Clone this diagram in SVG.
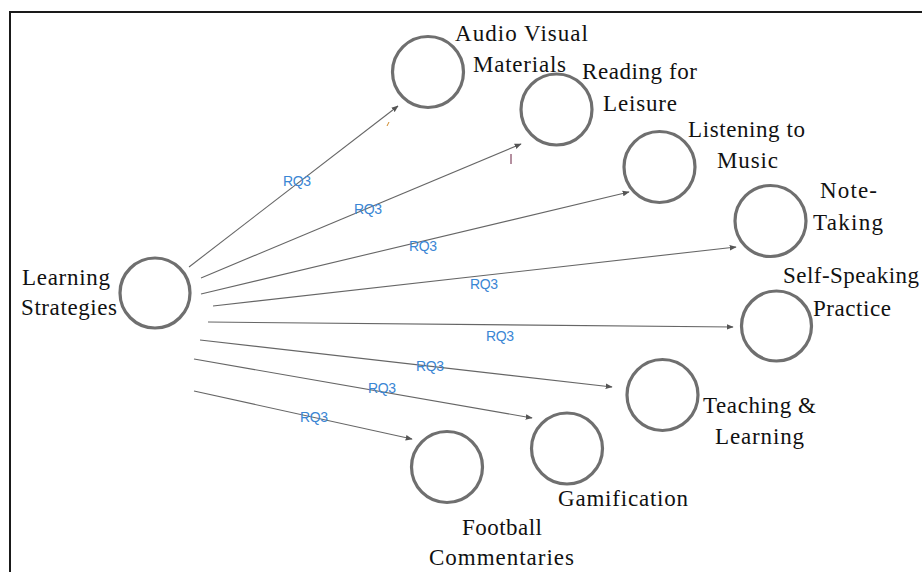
<svg xmlns="http://www.w3.org/2000/svg" width="922" height="572" viewBox="0 0 922 572">
<style>
.node{fill:none;stroke:#6f6f6f;stroke-width:3.2}
.lbl{font-family:"Liberation Serif","Times New Roman",serif;font-size:23px;fill:#111}
.edge{stroke:#666;stroke-width:1.1;fill:none;marker-end:url(#arr)}
.rq{font-family:"Liberation Sans",Arial,sans-serif;font-size:14px;fill:#3a86d4}
</style>
<defs>
<marker id="arr" viewBox="0 0 10 10" refX="9" refY="5" markerWidth="7" markerHeight="7" markerUnits="userSpaceOnUse" orient="auto">
<path d="M0,1 L10,5 L0,9 z" fill="#555"/>
</marker>
</defs>
<rect width="922" height="572" fill="#fff"/>
<path d="M10,572 V12 H922" fill="none" stroke="#1a1a1a" stroke-width="2"/>

<g id="connectors">
<line class="edge" x1="189" y1="267" x2="398" y2="106"/>
<line class="edge" x1="201" y1="278" x2="521" y2="144"/>
<line class="edge" x1="201" y1="294" x2="629" y2="192"/>
<line class="edge" x1="213" y1="306" x2="736" y2="247"/>
<line class="edge" x1="208" y1="322" x2="733" y2="327"/>
<line class="edge" x1="200" y1="340" x2="612" y2="387"/>
<line class="edge" x1="194" y1="359" x2="532" y2="418"/>
<line class="edge" x1="194" y1="391" x2="412" y2="439"/>
<text class="rq" x="283" y="186" textLength="28">RQ3</text>
<text class="rq" x="354" y="214" textLength="28">RQ3</text>
<text class="rq" x="409" y="251" textLength="28">RQ3</text>
<text class="rq" x="470" y="289" textLength="28">RQ3</text>
<text class="rq" x="486" y="341" textLength="28">RQ3</text>
<text class="rq" x="416" y="371" textLength="28">RQ3</text>
<text class="rq" x="368" y="393" textLength="28">RQ3</text>
<text class="rq" x="300" y="422" textLength="28">RQ3</text>
<line x1="387" y1="126" x2="389" y2="122" stroke="#d08a2a" stroke-width="1"/>
<line x1="511" y1="154" x2="511" y2="164" stroke="#6a2040" stroke-width="1"/>
</g>

<g id="learning-strategies">
<circle class="node" cx="155" cy="293" r="35"/>
<text class="lbl" x="22" y="285" textLength="88">Learning</text>
<text class="lbl" x="21" y="315" textLength="96">Strategies</text>
</g>
<g id="audio-visual">
<circle class="node" cx="428" cy="72" r="35.5"/>
<text class="lbl" x="455" y="41" textLength="133">Audio Visual</text>
<text class="lbl" x="473" y="72" textLength="93">Materials</text>
</g>
<g id="reading">
<circle class="node" cx="556.5" cy="109.5" r="35.5"/>
<text class="lbl" x="582" y="79" textLength="115">Reading for</text>
<text class="lbl" x="603" y="111" textLength="74">Leisure</text>
</g>
<g id="listening">
<circle class="node" cx="659.5" cy="167" r="35.5"/>
<text class="lbl" x="688" y="137" textLength="117">Listening to</text>
<text class="lbl" x="717" y="168" textLength="61">Music</text>
</g>
<g id="note-taking">
<circle class="node" cx="770.5" cy="221" r="35.5"/>
<text class="lbl" x="820" y="198" textLength="57">Note-</text>
<text class="lbl" x="813" y="230" textLength="70">Taking</text>
</g>
<g id="self-speaking">
<circle class="node" cx="776.5" cy="326" r="35"/>
<text class="lbl" x="783" y="283" textLength="136">Self-Speaking</text>
<text class="lbl" x="813" y="316" textLength="78">Practice</text>
</g>
<g id="teaching">
<circle class="node" cx="662.5" cy="395" r="35.5"/>
<text class="lbl" x="703" y="413" textLength="113">Teaching &amp;</text>
<text class="lbl" x="715" y="444" textLength="89">Learning</text>
</g>
<g id="gamification">
<circle class="node" cx="567" cy="448.5" r="35.5"/>
<text class="lbl" x="558" y="506" textLength="130">Gamification</text>
</g>
<g id="football">
<circle class="node" cx="447" cy="467" r="35.5"/>
<text class="lbl" x="462" y="535" textLength="80">Football</text>
<text class="lbl" x="429" y="565" textLength="145">Commentaries</text>
</g>
</svg>
